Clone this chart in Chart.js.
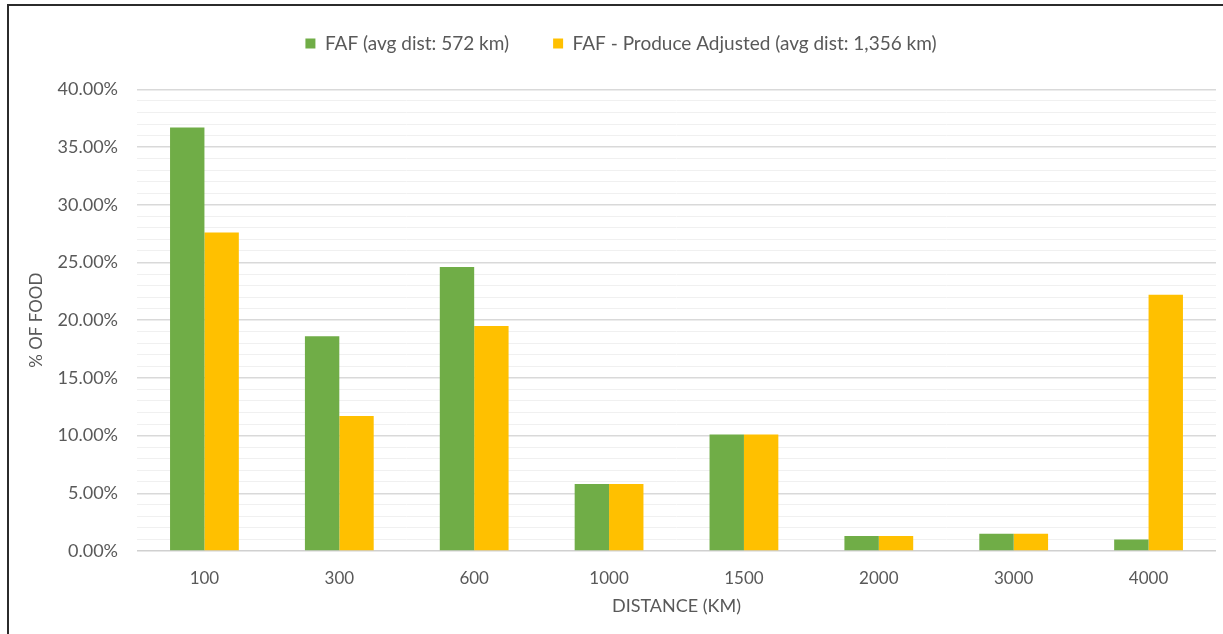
<!DOCTYPE html>
<html>
<head>
<meta charset="utf-8">
<script src="https://cdn.jsdelivr.net/npm/chart.js@4"></script>
<style>
  body { margin: 0; background: #fff; }
  #wrap { position: relative; width: 1223px; height: 634px; overflow: hidden; }
  #frame { position: absolute; left: 7px; top: 4px; width: 1300px; height: 700px;
    border-left: 2px solid #2b2b2b; border-top: 2px solid #2b2b2b; }
  #myChart { position: absolute; left: 0; top: 0; }
</style>
</head>
<body>
<div id="wrap">
  <div id="frame"></div>
  <canvas id="myChart" width="1223" height="634"></canvas>
</div>
<script>
//*********** data ********************************* */
const distances = ["100", "300", "600", "1000", "1500", "2000", "3000", "4000"];
const fafValues = [36.7, 18.6, 24.6, 5.8, 10.1, 1.3, 1.5, 1.0];
const produceValues = [27.6, 11.7, 19.5, 5.8, 10.1, 1.3, 1.5, 22.2];
const seriesNames = ["FAF (avg dist: 572 km)", "FAF - Produce Adjusted (avg dist: 1,356 km)"];
const yTitle = "% OF FOOD";
const xTitle = "DISTANCE (KM)";

const textColor = "#595959";
const fontFamily = "Lato, 'Open Sans', sans-serif";

const data = {
  labels: distances,
  datasets: [
    {
      label: seriesNames[0],
      data: fafValues,
      backgroundColor: "#70ad47",
      categoryPercentage: 0.51,
      barPercentage: 1.0,
    },
    {
      label: seriesNames[1],
      data: produceValues,
      backgroundColor: "#ffc000",
      categoryPercentage: 0.51,
      barPercentage: 1.0,
    },
  ],
};

const config = {
  type: "bar",
  data: data,
  options: {
    responsive: false,
    animation: false,
    layout: {
      padding: { left: 26, right: 7, top: -10, bottom: 0 },
    },
    scales: {
      x: {
        afterFit: function (scale) {
          scale.height = 634 - 551;
        },
        grid: { display: false, drawTicks: false },
        border: { display: false },
        ticks: {
          color: textColor,
          font: { family: fontFamily, size: 17 },
          padding: 17,
        },
        title: {
          display: true,
          text: xTitle,
          color: textColor,
          font: { family: fontFamily, size: 18 },
          padding: { top: 0, bottom: 17 },
        },
      },
      y: {
        min: 0,
        max: 40,
        afterFit: function (scale) {
          scale.width = 137 - 26;
        },
        grid: {
          drawTicks: false,
          color: function (ctx) {
            const v = ctx.tick.value;
            if (v === 0) return "#d0d0d0";
            return v % 5 === 0 ? "#d9d9d9" : "#f0f0f0";
          },
          lineWidth: function (ctx) {
            return ctx.tick.value % 5 === 0 ? 1.5 : 1;
          },
        },
        border: { display: false },
        ticks: {
          stepSize: 1,
          autoSkip: false,
          color: textColor,
          font: { family: fontFamily, size: 18 },
          padding: 19,
          callback: function (value) {
            return value % 5 === 0 ? value.toFixed(2) + "%" : "";
          },
        },
        title: {
          display: true,
          text: yTitle,
          color: textColor,
          font: { family: fontFamily, size: 17 },
          padding: 0,
        },
      },
    },
    plugins: {
      legend: {
        position: "top",
        weight: 3000,
        labels: {
          color: textColor,
          font: { family: fontFamily, size: 19 },
          boxWidth: 10,
          boxHeight: 10,
          padding: 44,
        },
      },
      // empty subtitle used as a gap between legend and plot
      subtitle: {
        display: true,
        text: " ",
        font: { size: 2 },
        padding: { top: 24, bottom: 0 },
      },
      tooltip: { enabled: false },
    },
  },
};

const myChart = new Chart(document.getElementById("myChart"), config);
</script>
</body>
</html>
